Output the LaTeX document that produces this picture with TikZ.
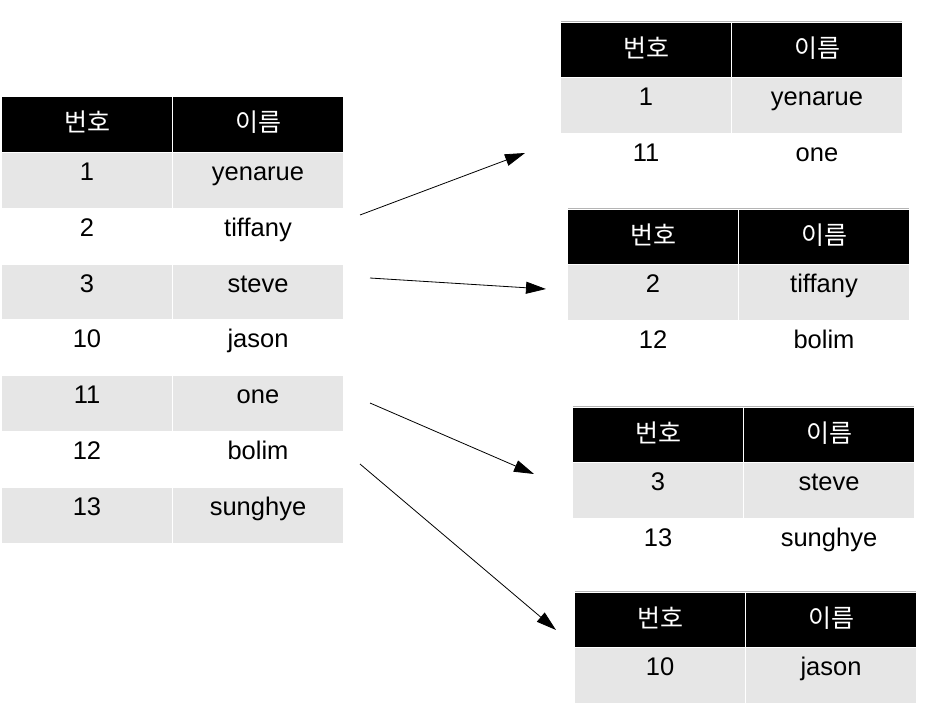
\documentclass[tikz,border=0pt]{standalone}
\usepackage{fontspec}
\usepackage{tikz}
\usetikzlibrary{positioning,arrows.meta}
\setmainfont{Liberation Sans}
\newfontfamily\kr{Noto Sans CJK KR}
\definecolor{rowgrayc}{HTML}{E6E6E6}
\definecolor{toplinec}{HTML}{B4B4B4}
\colorlet{rowgray}{rowgrayc}
\colorlet{headcolor}{black}
\colorlet{topline}{toplinec}
\tikzstyle{cell} = [
    rectangle,
    inner sep=0pt,
    outer sep=0pt,
    minimum width=170pt,
    minimum height=54.8pt,
    font=\fontsize{25.5}{30}\selectfont,
    text height=16pt,
    text depth=15.8pt
    ]
\tikzstyle{headcell} = [
    cell,
    fill=headcolor,
    text=white,
    font=\kr\fontsize{25}{30}\selectfont,
    text height=20pt,
    text depth=5.6pt
    ]
\tikzstyle{graycell} = [cell, fill=rowgray]
\tikzstyle{plaincell} = [cell]
\tikzstyle{link} = [-{Triangle[length=20pt,width=12pt]}, line width=0.8pt]
\newcommand{\subtable}[5]{% name, x, y, number, name of first row
    \node[headcell] (#1h-n) at (#2,#3) {번호};
    \node[headcell, right=1pt of #1h-n] (#1h-v) {이름};
    \draw[topline, line width=1pt] ([yshift=1pt]#1h-n.north west) -- ([yshift=1pt]#1h-v.north east);
    \node[graycell, below=1pt of #1h-n] (#1r1-n) {#4};
    \node[graycell, right=1pt of #1r1-n] (#1r1-v) {#5};
}

\begin{document}
\begin{tikzpicture}[x=1pt, y=-1pt]
\useasboundingbox (0,0) rectangle (927,721);

% all students
\node[headcell] (L0-n) at (87,124.5) {번호};
\node[headcell, right=1pt of L0-n] (L0-v) {이름};
\foreach \s/\n/\v [count=\i, evaluate=\i as \j using int(\i-1)] in
    {graycell/1/yenarue, plaincell/2/tiffany, graycell/3/steve, plaincell/10/jason,
     graycell/11/one, plaincell/12/bolim, graycell/13/sunghye} {
    \node[\s, below=1pt of L\j-n] (L\i-n) {\n};
    \node[\s, right=1pt of L\i-n] (L\i-v) {\v};
}

% split tables
\subtable{A}{646}{50}{1}{yenarue}
\node[plaincell, below=1pt of Ar1-n] (Ar2-n) {11};
\node[plaincell, right=1pt of Ar2-n] (Ar2-v) {one};

\subtable{B}{653}{237}{2}{tiffany}
\node[plaincell, below=1pt of Br1-n] (Br2-n) {12};
\node[plaincell, right=1pt of Br2-n] (Br2-v) {bolim};

\subtable{C}{658}{435}{3}{steve}
\node[plaincell, below=1pt of Cr1-n] (Cr2-n) {13};
\node[plaincell, right=1pt of Cr2-n] (Cr2-v) {sunghye};

\subtable{D}{660}{620}{10}{jason}

% arrows
\coordinate (a1) at (360,215);
\coordinate (b1) at (525,153);
\coordinate (a2) at (370,278);
\coordinate (b2) at (546,289);
\coordinate (a3) at (370,403);
\coordinate (b3) at (534,474);
\coordinate (a4) at (360,464);
\coordinate (b4) at (556,630);
\foreach \k in {1,...,4}
    \draw[link] (a\k) -- (b\k);
\end{tikzpicture}
\end{document}
